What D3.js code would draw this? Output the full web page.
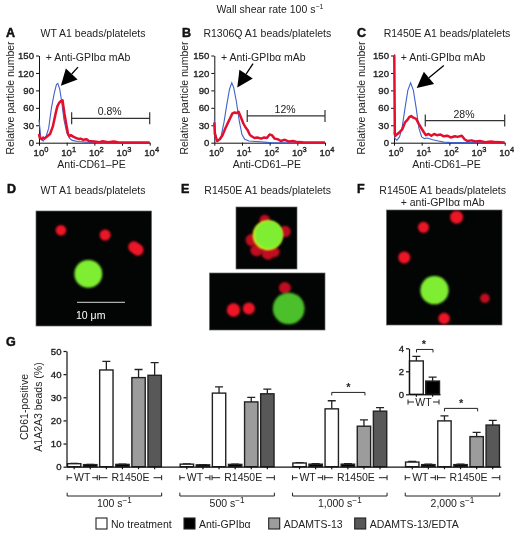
<!DOCTYPE html>
<html><head><meta charset="utf-8">
<script src="https://cdn.jsdelivr.net/npm/d3@7"></script>
<style>
html,body{margin:0;padding:0;background:#fff}
svg{display:block;filter:blur(.35px)}
text{font-family:"Liberation Sans",Arial,sans-serif;fill:#222}
</style></head><body>
<svg id="c" width="514" height="533"></svg>
<script>
// ---------- histogram data: [decade (log10 of fluorescence), particle count]
const blueA=[[0,40],[.03,25],[.07,8],[.15,3],[.25,10],[.35,25],[.45,60],[.55,85],[.63,100],[.68,102],[.75,92],[.82,70],[.9,40],[1,18],[1.1,8],[1.2,4],[1.4,2],[1.7,1],[2,0],[4,0]];
const redA=[[0,15],[.03,8],[.1,6],[.15,9],[.2,7],[.3,11],[.4,15],[.5,28],[.6,50],[.66,62],[.72,68],[.78,71],[.85,73],[.92,50],[1,28],[1.05,15],[1.1,11],[1.15,13],[1.25,10],[1.35,8],[1.45,6],[1.5,7],[1.6,5],[1.72,6],[1.8,3],[2,2],[2.2,1],[2.3,2.5],[2.5,.8],[2.7,2],[2.85,.6],[3,.5],[4,.5]];
const blueB=[[0,40],[.03,22],[.08,6],[.15,3],[.25,12],[.35,35],[.45,65],[.55,92],[.63,103],[.7,95],[.8,70],[.9,38],[1,14],[1.1,6],[1.25,3],[1.5,2],[1.8,1],[2.1,0],[4,0]];
const redB=[[0,35],[.02,15],[.1,3],[.2,6],[.3,13],[.4,25],[.5,35],[.58,43],[.65,50],[.72,52],[.8,51],[.88,53],[.95,45],[1.05,33],[1.12,27],[1.2,22],[1.28,14],[1.35,11],[1.45,8],[1.55,9],[1.7,7],[1.8,9],[1.9,8],[2,14],[2.08,13],[2.18,7],[2.3,6],[2.4,3],[2.55,5],[2.7,2],[2.85,3],[3,1],[3.2,.6],[4,.5]];
const blueC=[[0,18],[.03,8],[.1,4],[.2,10],[.3,28],[.4,60],[.5,90],[.6,103],[.7,90],[.8,60],[.9,25],[1,10],[1.1,7],[1.2,8],[1.4,5],[1.6,3],[1.8,1],[2,.5],[4,0]];
const redC=[[0,150],[.01,150],[.03,15],[.05,12],[.1,14],[.2,18],[.3,23],[.4,35],[.5,40],[.55,44],[.62,46],[.7,43],[.8,41],[.9,32],[1,24],[1.08,18],[1.15,13],[1.25,15],[1.35,12],[1.45,15],[1.55,13],[1.68,14],[1.8,11],[1.92,12],[2.05,9],[2.2,11],[2.3,10],[2.45,12],[2.55,6],[2.65,3],[2.8,4],[2.95,2],[3.1,3],[3.3,1],[3.5,2],[3.7,1],[4,.5]];
const histYTicks=[0,30,60,90,120,150];
const histXTicks=[0,1,2,3,4];
const histLetters=["A","B","C"];
const histTitles=["WT A1 beads/platelets","R1306Q A1 beads/platelets","R1450E A1 beads/platelets"];
const gateLabels=["0.8%","12%","28%"];
const gateStarts=[1.18,1.19,1.13];
const gateLevels=[42,46,38];
const arrowTips=[[.79,98],[.83,95],[.82,94]];
const arrowTails=[[1.41,130],[1.4,136],[1.8,133]];

// ---------- bar data
const shearLabels=["100","500","1,000","2,000"];
const barKinds=["No treatment","Anti-GPIbα","ADAMTS-13","ADAMTS-13/EDTA"];
const barColors=["#fff","#000","#9c9c9c","#585858"];
const barTreat=[0,1,0,1,2,3];
const barValues=[[1.3,.9,41.8,1,38.5,39.5],[1.1,.8,31.8,1,28,31.5],[1.6,1.1,25,1.1,17.5,24],[2,.9,19.8,.9,13,18]];
const barTops=[[1.4,1,45.5,1.1,42,45],[1.2,.9,34.5,1.1,30,33.5],[1.7,1.3,28.5,1.3,20.2,25.5],[2.3,1.1,22,1.1,14.8,20]];
const sigGroups=[2,3];
const sigLevels=[32.1,25.2];
const insetValues=[2.9,1.15];
const insetTops=[3.3,1.5];
const insetKinds=[0,1];

// ---------- micrographs, in micrometres: [x, y, r, colour]
const blobsD=[[10.9,13.1,2.9,"g"],[5.2,4,1.1,"r"],[14.4,5,1.15,"r"],[20.4,7.5,1.2,"r"],[21.2,8.1,1.2,"r"]];
const blobsE1=[[6,2.7,1.1,"d"],[10.2,5.1,1.2,"d"],[3.3,6.9,1.3,"d"],[4.3,9,1.3,"d"],[6.7,9.6,1.4,"d"],[8.1,9.4,1,"d"],[6.6,5.9,3.1,"y"],[6.8,5.8,2.95,"g"]];
const blobsE2=[[15.7,3.1,1.25,"d"],[5,7.7,1.4,"r"],[8.2,7.4,1.25,"r"],[16.5,7.4,3.3,"m"]];
const blobsF=[[10,16.7,2.95,"g"],[14.6,1.5,1.35,"r"],[7.7,3.6,1.15,"r"],[3.7,9.9,1.25,"r"],[20.5,18.4,1,"d"],[12,22.6,1.2,"r"]];
const blobColors={g:"#7fee30",m:"#4cc02a",y:"#e8e820",r:"#ee1428",d:"#c01020"};

const svg=d3.select("#c");
const defs=svg.append("defs");
defs.append("filter").attr("id","blur").attr("x","-30%").attr("y","-30%").attr("width","160%").attr("height","160%")
  .append("feGaussianBlur").attr("stdDeviation",1.3);

const FS=10.5, TICK=9.6;
function txt(g,x,y,s,o={}){
  const t=g.append("text").attr("x",x).attr("y",y).attr("font-size",o.size||FS).attr("text-anchor",o.anchor||"middle").text(s);
  if(o.fill)t.style("fill",o.fill);
  if(o.rotate)t.attr("transform",`rotate(-90 ${x} ${y})`);
  return t;
}
function letter(x,y,s){
  svg.append("text").attr("x",x).attr("y",y).attr("font-size",12.5).attr("font-weight",700)
    .attr("stroke","#111").attr("stroke-width",.5).text(s).style("fill","#111");
}
function sup(g,x,y,base,s,o={}){
  const t=g.append("text").attr("x",x).attr("y",y).attr("font-size",o.size||FS).attr("text-anchor","middle");
  if(o.stroke)t.attr("stroke","#222").attr("stroke-width",o.stroke);
  t.append("tspan").text(base);
  t.append("tspan").attr("dy",-4).attr("font-size",(o.size||FS)*.78).text(s);
  return t;
}
function styleAxis(g,w){
  g.selectAll("path,line").attr("stroke","#111").attr("stroke-width",w||1);
  g.selectAll("text").style("font-family",'"Liberation Sans",Arial,sans-serif').attr("font-size",TICK)
    .attr("stroke","#222").attr("stroke-width",.35).style("fill","#222");
}

// title
const tt=svg.append("text").attr("x",270).attr("y",13).attr("font-size",FS).attr("text-anchor","middle");
tt.append("tspan").text("Wall shear rate 100 s");
tt.append("tspan").attr("dy",-4).attr("font-size",7).text("−1");

// ---------- flow-cytometry histograms
const histLefts=[39,214.3,394];
const histYLabelGap=[25,26.7,29];
const histBlue=[blueA,blueB,blueC], histRed=[redA,redB,redC];
const histY=d3.scaleLinear().domain([0,150]).range([142.7,55.5]);
histLefts.forEach((L,i)=>{
  const x=d3.scaleLinear().domain([0,4]).range([L,L+110.7]);
  const g=svg.append("g");
  const line=d3.line().x(d=>x(d[0])).y(d=>histY(d[1]));
  const ay=g.append("g").attr("transform",`translate(${L},0)`).call(d3.axisLeft(histY).tickValues(histYTicks).tickSize(3).tickPadding(2).tickSizeOuter(0));
  styleAxis(ay);
  const ax=g.append("g").attr("transform","translate(0,142.7)").call(d3.axisBottom(x).tickValues(histXTicks).tickSize(3).tickFormat("").tickSizeOuter(0));
  styleAxis(ax);
  g.append("path").attr("d",line(histBlue[i])).attr("fill","none").attr("stroke","#3f63c9").attr("stroke-width",1.1);
  g.append("path").attr("d",line(histRed[i])).attr("fill","none").attr("stroke","#e2102e").attr("stroke-width",2.5).attr("stroke-linejoin","round");
  histXTicks.forEach(k=>sup(g,x(k)+2,156,"10",k,{stroke:.35,size:TICK}));
  txt(g,L-histYLabelGap[i],98,"Relative particle number",{rotate:true});
  txt(g,L+52.5,168,"Anti-CD61–PE");
  txt(g,L+54+(i===0?0:-1),37,histTitles[i]);
  letter([6,182,357][i],37,histLetters[i]);
  txt(g,L+49,61,"+ Anti-GPIbα mAb");
  // gate
  const gy=histY(gateLevels[i]),gx0=x(gateStarts[i]),gx1=x(4);
  g.append("path").attr("d",`M${gx0},${gy-6}V${gy+6}M${gx0},${gy}H${gx1}M${gx1},${gy-6}V${gy+6}`).attr("fill","none").attr("stroke","#333").attr("stroke-width",1.2);
  txt(g,(gx0+gx1)/2-1,gy-3,gateLabels[i]);
  // arrow
  const tip=[x(arrowTips[i][0]),histY(arrowTips[i][1])], tail=[x(arrowTails[i][0]),histY(arrowTails[i][1])];
  const a=Math.atan2(tail[1]-tip[1],tail[0]-tip[0]), c=Math.cos(a), s=Math.sin(a);
  const hl=16,hw=8,nx=tip[0]+c*hl,ny=tip[1]+s*hl;
  g.append("line").attr("x1",nx).attr("y1",ny).attr("x2",tail[0]).attr("y2",tail[1]).attr("stroke","#000").attr("stroke-width",1.3);
  g.append("polygon").attr("points",[tip,[nx-s*hw,ny+c*hw],[nx+s*hw,ny-c*hw]].map(p=>p.join(",")).join(" ")).attr("fill","#000");
});

// ---------- micrographs
const clipId=(()=>{let n=0;return()=>"cl"+(++n)})();
function micro(x0,y0,w,h,blobs){
  const id=clipId();
  defs.append("clipPath").attr("id",id).append("rect").attr("x",x0).attr("y",y0).attr("width",w).attr("height",h);
  const sx=d3.scaleLinear().domain([0,1]).range([x0,x0+4.8]);
  const sy=d3.scaleLinear().domain([0,1]).range([y0,y0+4.8]);
  const g=svg.append("g");
  g.append("rect").attr("x",x0).attr("y",y0).attr("width",w).attr("height",h).attr("fill","#030504").attr("stroke","#666").attr("stroke-width",.7);
  g.append("g").attr("clip-path",`url(#${id})`).selectAll("circle").data(blobs).join("circle")
    .attr("cx",d=>sx(d[0])).attr("cy",d=>sy(d[1])).attr("r",d=>d[2]*4.8)
    .attr("fill",d=>blobColors[d[3]]).attr("filter","url(#blur)");
}
micro(36,211,115.5,115,blobsD);
micro(236,207,61,62,blobsE1);
micro(209.5,273,115.5,57,blobsE2);
micro(386.5,210,115.5,115,blobsF);
const md=svg.append("g");
txt(md,93,194,histTitles[0]);
txt(md,267.7,194,histTitles[2]);
txt(md,442.7,194,histTitles[2]);
txt(md,442.7,206,"+ anti-GPIbα mAb");
letter(7,193,"D");letter(181,193,"E");letter(357,193,"F");
md.append("line").attr("x1",77).attr("x2",125).attr("y1",302.3).attr("y2",302.3).attr("stroke","#eee").attr("stroke-width",.9);
txt(md,76,319,"10 μm",{anchor:"start",fill:"#fff"});

// ---------- bar chart G
const slots=d3.range(27);
const bx=d3.scaleBand().domain(slots).range([66.1,66.1+27*16.1]).paddingInner(.17).paddingOuter(.085);
const by=d3.scaleLinear().domain([0,50]).range([466.7,351]);
const cx=i=>bx(i)+bx.bandwidth()/2;
const G=svg.append("g");
const barRows=barValues.flatMap((row,g)=>row.map((v,b)=>({g,b,v,top:barTops[g][b],slot:g*7+b,kind:barTreat[b]})));
function drawBars(sel,rows,xf,bw,yS){
  const e=sel.append("g").attr("fill","none").attr("stroke","#222").attr("stroke-width",1.3);
  rows.forEach(d=>{
    const X=xf(d);
    e.append("path").attr("d",`M${X},${yS(d.v)}V${yS(d.top)}M${X-4},${yS(d.top)}H${X+4}`);
  });
  sel.append("g").selectAll("rect").data(rows).join("rect")
    .attr("x",d=>xf(d)-bw/2).attr("y",d=>yS(d.v)).attr("width",bw).attr("height",d=>yS(0)-yS(d.v))
    .attr("fill",d=>barColors[d.kind]).attr("stroke","#222").attr("stroke-width",1.4);
}
drawBars(G,barRows,d=>cx(d.slot),bx.bandwidth(),by);
const gy=G.append("g").attr("transform","translate(66.5,0)").call(d3.axisLeft(by).tickValues([0,10,20,30,40,50]).tickSize(3).tickPadding(2).tickSizeOuter(0));
styleAxis(gy,1.2);
const gx=G.append("g").attr("transform","translate(0,466.7)").call(d3.axisBottom(bx).tickValues(barRows.map(d=>d.slot)).tickSize(2.5).tickFormat("").tickSizeOuter(0));
styleAxis(gx,1.2);
function spanLabel(g,x0,x1,y,s,tw){
  const m=(x0+x1)/2;
  g.append("path").attr("d",`M${x0},${y-2.5}V${y+2.5}M${x0},${y}H${m-tw/2}M${m+tw/2},${y}H${x1}M${x1},${y-2.5}V${y+2.5}`).attr("fill","none").attr("stroke","#222").attr("stroke-width",1);
  txt(g,m,y+3.6,s);
}
shearLabels.forEach((s,g)=>{
  const f=g*7;
  spanLabel(G,cx(f)-7,cx(f+1)+7,477.7,"WT",20);
  spanLabel(G,cx(f+2)-7,cx(f+5)+7,477.7,"R1450E",46);
  const a=cx(f)-7,b=cx(f+5)+7;
  G.append("path").attr("d",`M${a},492.7V496H${b}V492.7`).attr("fill","none").attr("stroke","#222").attr("stroke-width",1);
  sup(G,(a+b)/2,507,s+" s","−1");
});
txt(G,28,407,"CD61-positive",{rotate:true});
txt(G,42,407,"A1A2A3 beads (%)",{rotate:true});
letter(6,346,"G");
sigGroups.forEach((g,i)=>{
  const a=cx(g*7+2),b=cx(g*7+4)+1,y=by(sigLevels[i]);
  G.append("path").attr("d",`M${a},${y+3}V${y}H${b}V${y+3}`).attr("fill","none").attr("stroke","#222").attr("stroke-width",1);
  txt(G,(a+b)/2,y-1,"*",{size:11}).attr("font-weight",700);
});

// inset
const iy=d3.scaleLinear().domain([0,4]).range([394.3,348.3]);
const ix=d3.scaleBand().domain(insetKinds).range([409,440]).paddingInner(.15).paddingOuter(.03);
const inset=svg.append("g");
const insetRows=insetValues.map((v,i)=>({v,top:insetTops[i],kind:insetKinds[i]}));
drawBars(inset,insetRows,d=>ix(d.kind)+ix.bandwidth()/2,ix.bandwidth(),iy);
styleAxis(inset.append("g").attr("transform","translate(409,0)").call(d3.axisLeft(iy).tickValues([0,2,4]).tickFormat(d3.format("d")).tickSize(3).tickPadding(2).tickSizeOuter(0)),1.2);
styleAxis(inset.append("g").attr("transform","translate(0,394.3)").call(d3.axisBottom(ix).tickSize(2.5).tickFormat("").tickSizeOuter(0)),1.2);
spanLabel(inset,408,439,402,"WT",19);
inset.append("path").attr("d",`M416.5,${iy(3.9)+3}V${iy(3.9)}H433V${iy(3.9)+3}`).attr("fill","none").attr("stroke","#222").attr("stroke-width",1);
txt(inset,424,iy(3.9)-1,"*",{size:11}).attr("font-weight",700);

// legend
const legX=[96,184,268.7,354.7];
barKinds.forEach((s,i)=>{
  svg.append("rect").attr("x",legX[i]).attr("y",518).attr("width",11).attr("height",11)
    .attr("fill",barColors[i]).attr("stroke","#222").attr("stroke-width",1.1);
  txt(svg,legX[i]+15,527.5,s,{anchor:"start"});
});
</script>
</body></html>
